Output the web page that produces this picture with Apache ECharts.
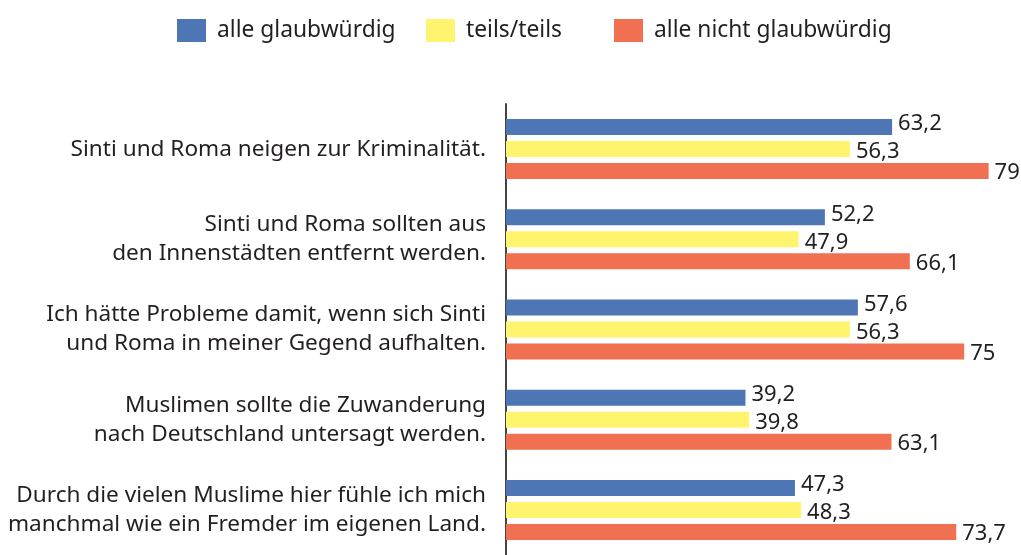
<!DOCTYPE html>
<html lang="de">
<head>
    <meta charset="UTF-8">
    <title>Glaubwürdigkeit</title>
    <script src="https://cdn.jsdelivr.net/npm/echarts@6/dist/echarts.min.js"></script>
    <style>
        * { margin: 0; padding: 0; }
        body { background: #fff; }
        #main { width: 1021px; height: 555px; }
    </style>
</head>
<body>
    <div id="main"></div>
    <script>
        // Daten
        const categories = [
            'Sinti und Roma neigen zur Kriminalität.',
            'Sinti und Roma sollten aus\nden Innenstädten entfernt werden.',
            'Ich hätte Probleme damit, wenn sich Sinti\nund Roma in meiner Gegend aufhalten.',
            'Muslimen sollte die Zuwanderung\nnach Deutschland untersagt werden.',
            'Durch die vielen Muslime hier fühle ich mich\nmanchmal wie ein Fremder im eigenen Land.'
        ];
        const seriesNames = ['alle glaubwürdig', 'teils/teils', 'alle nicht glaubwürdig'];
        const glaubwuerdig = [63.2, 52.2, 57.6, 39.2, 47.3];
        const teils = [56.3, 47.9, 56.3, 39.8, 48.3];
        const nichtGlaubwuerdig = [79, 66.1, 75, 63.1, 73.7];

        const colors = ['#4e76b4', '#fef46e', '#f07051'];
        const textColor = '#231f20';
        const fontFamily = '"Noto Sans", "Open Sans", sans-serif';

        const chart = echarts.init(document.getElementById('main'));

        function makeSeries(name, values, color, offsetY) {
            return {
                name: name,
                type: 'bar',
                data: values,
                barWidth: 16,
                barGap: '37.5%',
                itemStyle: { color: color },
                label: {
                    show: true,
                    position: 'right',
                    distance: 6,
                    offset: [0, offsetY],
                    color: textColor,
                    fontSize: 22,
                    fontFamily: fontFamily,
                    formatter: p => String(p.value).replace('.', ',')
                },
                emphasis: { disabled: true }
            };
        }

        // Legende: drei einzelne Einträge wie im Original positioniert
        const legendLefts = [177, 426, 614];
        const legends = seriesNames.map((n, i) => ({
            data: [n],
            left: legendLefts[i],
            top: 19,
            padding: 0,
            itemWidth: 29,
            itemHeight: 23,
            icon: 'rect',
            selectedMode: false,
            textStyle: {
                color: textColor,
                fontSize: 22.8,
                fontFamily: fontFamily,
                padding: [12, 0, 0, 6]
            }
        }));

        const option = {
            backgroundColor: '#fff',
            animation: false,
            legend: legends,
            grid: { left: 506, right: 0, top: 104, bottom: 0 },
            xAxis: {
                type: 'value',
                min: 0,
                max: 84.3,
                show: false
            },
            yAxis: {
                type: 'category',
                inverse: true,
                data: categories,
                axisTick: { show: false },
                axisLine: { show: true, lineStyle: { color: '#444', width: 2 } },
                axisLabel: {
                    margin: 20,
                    color: textColor,
                    fontSize: 22.6,
                    lineHeight: 29,
                    fontFamily: fontFamily,
                    align: 'right'
                }
            },
            series: [
                makeSeries(seriesNames[0], glaubwuerdig, colors[0], -3),
                makeSeries(seriesNames[1], teils, colors[1], 3),
                makeSeries(seriesNames[2], nichtGlaubwuerdig, colors[2], 2)
            ]
        };

        chart.setOption(option);
    </script>
</body>
</html>
